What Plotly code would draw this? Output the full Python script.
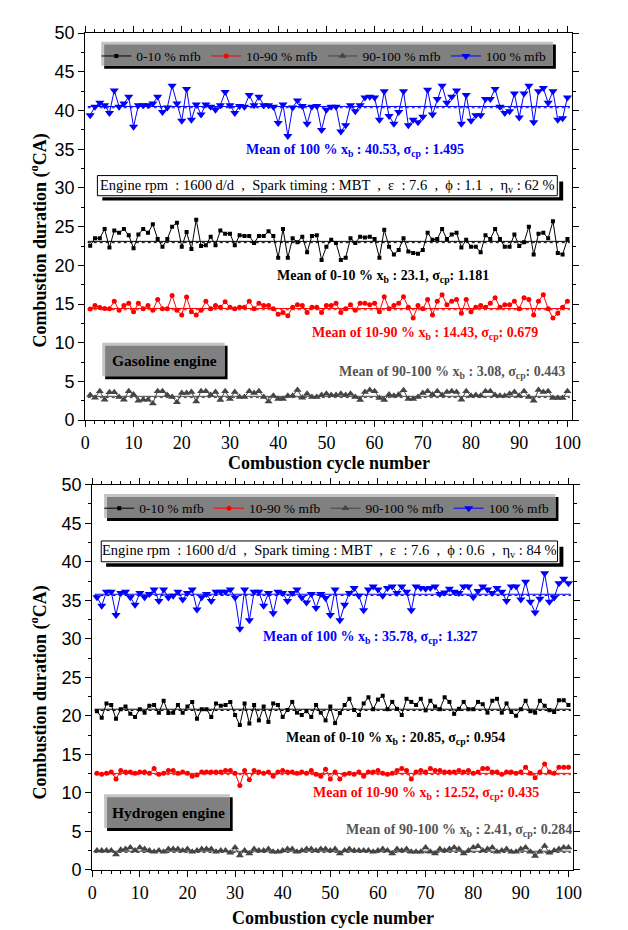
import numpy as np
import plotly.graph_objects as go

W, H = 628, 930

cycles = list(range(1, 101))

series_names = ["0-10 % mfb", "10-90 % mfb", "90-100 % mfb", "100 % mfb"]
mean_labels = ["0-10 %", "10-90 %", "90-100 %", "100 %"]

gas_0_10 = [22.55,23.5,23.5,24.7,22.3,24.5,24.2,24.7,23.9,22.2,
            24.0,24.7,24.2,25.3,23.4,22.4,23.4,25.0,25.5,22.4,
            24.3,22.1,25.9,22.5,22.6,23.7,22.6,24.5,24.1,24.1,
            22.6,23.9,23.8,23.8,22.9,23.8,23.8,24.4,23.8,21.0,
            24.7,21.0,23.5,23.0,23.7,21.7,23.8,23.9,20.7,22.4,
            23.3,22.9,20.7,21.0,23.5,22.9,23.7,23.6,23.7,23.4,
            21.0,24.6,22.4,21.4,22.0,23.5,21.8,21.6,21.5,22.0,
            24.2,23.3,23.4,24.7,23.4,24.0,24.2,22.3,23.3,22.4,
            22.4,21.7,23.9,23.4,24.7,23.4,22.4,22.4,24.0,22.5,
            23.0,25.0,21.4,24.1,24.2,23.5,25.7,21.6,21.4,23.4]
gas_10_90 = [14.35,14.8,14.55,14.43,14.4,15.35,14.2,14.8,15.1,14.0,
             15.1,14.4,14.8,14.2,15.6,14.4,14.4,16.1,14.2,13.6,
             15.9,14.0,13.6,14.2,15.35,14.4,14.8,14.6,15.3,14.6,
             14.4,14.6,14.6,15.35,14.4,15.1,14.8,14.8,14.4,13.7,
             13.9,13.5,14.6,14.9,14.8,13.9,14.6,14.6,13.9,14.8,
             14.8,15.1,13.9,14.4,14.9,14.2,15.1,15.1,14.9,15.1,
             14.0,15.95,14.4,14.8,15.1,15.95,14.6,13.2,14.8,14.4,
             15.6,13.6,15.35,16.2,14.9,15.35,15.6,13.8,15.6,14.0,
             14.6,14.8,14.6,15.1,15.8,14.6,14.9,14.9,15.35,14.4,
             15.8,15.6,13.6,15.35,16.2,14.4,13.2,13.8,14.6,15.35]
gas_90_100 = [3.25,2.9,3.75,2.65,3.6,3.6,3.0,2.65,3.75,3.3,
              2.5,2.65,2.65,2.15,3.75,3.75,3.25,3.0,2.3,3.5,
              3.5,3.65,2.4,3.75,3.75,3.25,3.65,2.6,3.75,2.75,
              3.65,3.0,3.0,3.75,3.5,3.75,3.0,2.4,3.15,2.75,
              2.75,3.15,3.15,3.9,2.9,3.4,3.0,3.0,3.25,3.4,
              3.25,3.25,3.4,3.25,3.4,3.0,2.6,3.65,3.9,3.75,
              2.85,2.6,3.3,3.15,3.3,3.85,2.75,2.75,3.0,3.5,
              3.75,3.3,3.75,3.25,3.65,3.75,3.65,2.65,3.75,3.15,
              3.25,3.15,3.75,3.75,3.25,3.15,3.15,3.4,3.65,3.15,
              3.75,3.0,2.5,3.9,3.65,3.75,2.85,2.85,2.85,3.75]
gas_100 = [39.4,40.5,41.0,40.7,39.7,42.6,40.5,40.9,41.8,37.9,
           40.7,40.7,40.7,40.9,41.8,39.8,40.4,43.2,40.9,38.7,
           42.8,38.8,40.8,39.5,40.8,40.5,40.1,40.7,42.4,40.7,
           39.7,40.6,40.5,42.0,40.7,41.8,40.7,40.7,40.5,38.4,
           40.8,36.7,40.4,41.3,40.6,38.3,40.5,40.6,37.5,40.1,
           40.5,40.5,37.3,38.1,40.7,39.9,40.7,41.7,41.8,41.7,
           38.8,42.5,39.3,38.3,39.8,42.5,38.1,38.8,38.5,39.2,
           42.7,39.5,41.5,43.2,41.0,41.8,42.6,38.3,42.0,38.7,
           39.4,39.4,41.5,41.5,42.8,40.5,39.7,39.9,42.2,39.1,
           42.2,43.2,38.5,42.5,42.9,41.0,42.5,38.8,39.0,41.7]

h2_0_10 = [20.6,19.75,21.6,21.4,19.6,20.85,21.2,20.25,19.85,20.85,
           20.4,21.3,21.4,20.4,21.95,20.35,20.4,21.4,20.4,21.2,
           21.8,19.6,20.85,20.85,19.85,21.6,21.3,21.4,21.8,20.1,
           18.8,21.6,19.0,21.4,19.4,21.2,19.2,21.6,21.4,19.85,
           20.75,21.8,20.4,20.1,20.6,19.85,21.4,20.4,19.4,21.2,
           19.05,20.35,21.4,22.2,20.75,20.1,21.6,22.4,20.85,22.1,
           22.6,20.85,21.8,20.9,20.1,22.2,21.8,21.4,22.2,20.7,
           21.95,21.2,20.85,22.4,21.8,20.25,20.9,21.8,20.85,20.85,
           21.8,21.5,20.4,21.95,22.2,20.4,21.6,20.5,20.0,20.85,
           21.95,20.6,20.4,21.95,21.3,20.7,20.5,22.0,22.0,21.4]
h2_10_90 = [12.55,12.4,12.55,12.7,11.8,12.9,12.7,12.7,12.55,12.7,
            12.7,12.55,13.15,12.4,12.55,12.9,12.9,12.55,12.7,12.55,
            12.15,12.3,12.7,12.7,12.7,12.7,12.7,12.9,12.9,12.55,
            10.95,12.9,11.7,12.9,12.7,12.55,12.7,12.15,12.7,12.9,
            12.7,12.7,12.55,12.7,12.55,12.9,12.4,12.15,13.05,11.8,
            12.7,11.8,12.4,12.55,12.4,12.7,12.15,12.7,12.7,12.9,
            12.55,12.4,12.55,12.9,13.15,12.9,11.8,12.7,12.9,12.7,
            13.15,12.9,12.9,12.7,12.7,12.7,12.9,12.7,12.9,12.55,
            12.7,13.15,13.15,12.7,12.7,12.4,12.7,12.7,12.55,12.7,
            13.3,12.55,11.95,12.7,13.75,12.7,12.55,13.3,13.3,13.3]
h2_90_100 = [2.5,2.5,2.5,2.5,2.0,2.6,2.7,2.9,2.5,2.9,
             2.7,2.5,2.35,2.5,2.35,2.7,2.7,2.7,2.5,2.7,
             2.35,2.5,2.7,2.7,2.7,2.35,2.5,2.5,2.2,2.9,
             1.85,2.5,2.1,2.7,2.5,2.5,2.7,2.35,2.35,2.5,
             2.7,2.7,2.35,2.5,2.7,2.7,2.5,2.7,2.7,2.5,
             2.7,2.1,2.5,2.7,2.5,2.5,2.5,2.5,2.35,2.5,
             2.7,2.5,2.1,2.7,2.5,2.7,2.35,2.35,2.35,2.9,
             2.35,2.1,2.7,2.5,2.7,2.9,2.7,2.1,2.5,2.9,
             3.05,2.5,2.7,2.9,2.35,2.5,2.7,2.35,2.35,2.7,
             2.9,2.35,1.8,2.35,3.1,2.2,2.5,2.7,2.9,2.9]
h2_100 = [35.4,34.3,36.1,36.1,33.1,35.95,36.1,35.4,34.4,35.95,
          35.4,35.8,36.4,34.9,36.4,35.35,35.6,36.1,35.1,35.95,
          36.4,33.8,35.4,35.8,34.9,36.1,36.1,36.1,36.4,35.35,
          31.3,36.4,32.4,36.1,36.1,34.3,35.95,33.3,36.1,35.95,
          34.9,35.95,36.4,35.35,34.7,35.8,34.0,35.8,35.3,33.1,
          36.4,32.4,34.4,35.95,36.6,35.6,33.7,36.4,36.8,36.4,
          35.6,36.6,36.8,35.95,36.8,36.1,33.7,36.8,36.6,36.5,
          36.6,36.8,35.8,36.0,36.5,36.1,35.95,36.8,36.8,35.4,
          36.2,36.8,36.4,35.95,36.6,36.1,34.9,36.8,36.8,35.1,
          37.4,34.8,33.4,35.2,38.5,34.8,35.35,37.2,37.8,37.2]

gas_means = [23.1, 14.43, 3.08, 40.53]
gas_sigmas = [1.181, 0.679, 0.443, 1.495]
h2_means = [20.85, 12.52, 2.41, 35.78]
h2_sigmas = [0.954, 0.435, 0.284, 1.327]

gas_condition = "Engine rpm  : 1600 d/d  ,  Spark timing : MBT  ,  ε  : 7.6  ,  ϕ : 1.1  ,  η<sub>v</sub> : 62 %"
h2_condition = "Engine rpm  : 1600 d/d  ,  Spark timing : MBT  ,  ε  : 7.6  ,  ϕ : 0.6  ,  η<sub>v</sub> : 84 %"
panel_names = ["Gasoline engine", "Hydrogen engine"]

x_title = "Combustion cycle number"
y_title = "Combustion duration (<sup>o</sup>CA)"

# ---------------- styling ----------------
SERIF = "Liberation Serif, Times New Roman, serif"
SANS = "Liberation Sans, Arial, sans-serif"
colors = ["#000000", "#ff0000", "#454545", "#0000ff"]
text_colors = ["#000000", "#ff0000", "#555555", "#0000ff"]
symbols = ["square", "circle", "triangle-up", "triangle-down"]
msizes = [4, 5, 7, 8]

def px(x):
    return x / W

def py(y):
    return 1 - y / H

panels = [
    dict(x0=74, x1=572, y0=15.5, y1=411, xa="x", ya="y", leg="legend",
         means=gas_means, sig=gas_sigmas, data=[gas_0_10, gas_10_90, gas_90_100, gas_100],
         cond=gas_condition, name=panel_names[0],
         mean_pos=[(39.3, 18.5), (46.6, 11.2), (52.3, 6.1), (33.0, 34.9)],
         legbox=(3.3, 97.6, 45.4, 48.9), condbox=(2.5, 97.9, 29.0, 31.6),
         namebox=(3.5, 29.5, 5.3, 10.0), xt_y=455, yt_y=227),
    dict(x0=81, x1=573, y0=477, y1=870.5, xa="x2", ya="y2", leg="legend2",
         means=h2_means, sig=h2_sigmas, data=[h2_0_10, h2_10_90, h2_90_100, h2_100],
         cond=h2_condition, name=panel_names[1],
         mean_pos=[(40.2, 17.0), (45.9, 9.9), (52.9, 5.1), (35.4, 30.2)],
         legbox=(2.5, 97.9, 45.3, 48.8), condbox=(1.9, 97.7, 40.0, 42.7),
         namebox=(2.5, 29.5, 5.05, 9.8), xt_y=920, yt_y=689),
]
XMAX = 101

fig = go.Figure()
shapes = []
annotations = []
legends = {}

def bevel(xa, ya, x0, x1, y0, y1, xs, ys, t):
    return [
        dict(type="rect", xref=xa, yref=ya, x0=x0 + t * xs, x1=x1, y0=y0, y1=y1 - t * ys,
             fillcolor="#000000", line=dict(width=0), layer="above"),
        dict(type="rect", xref=xa, yref=ya, x0=x0, x1=x1 - t * xs, y0=y0 + t * ys, y1=y1,
             fillcolor="#c4c4c4", line=dict(width=0), layer="above"),
        dict(type="rect", xref=xa, yref=ya, x0=x0 + t * xs, x1=x1 - t * xs,
             y0=y0 + t * ys, y1=y1 - t * ys, fillcolor="#808080", line=dict(width=0),
             layer="above"),
    ]

for pi, p in enumerate(panels):
    xa, ya = p["xa"], p["ya"]
    xs = XMAX / (p["x1"] - p["x0"])     # data units per px (x)
    ys = 50 / (p["y1"] - p["y0"])       # data units per px (y)
    for k in range(4):
        yv = p["data"][k]
        fig.add_trace(go.Scatter(
            x=cycles, y=yv, mode="lines+markers", name=series_names[k],
            line=dict(color=colors[k], width=1),
            marker=dict(symbol=symbols[k], size=msizes[k], color=colors[k]),
            xaxis=xa, yaxis=ya, legend=p["leg"]))
        # mean line (solid) with a dotted companion just below it
        fig.add_trace(go.Scatter(
            x=[0.5, 100.5], y=[p["means"][k]] * 2, mode="lines",
            line=dict(color=colors[k], width=1), showlegend=False,
            xaxis=xa, yaxis=ya, hoverinfo="skip"))
        fig.add_trace(go.Scatter(
            x=[0.5, 100.5], y=[p["means"][k] - 1.3 * ys] * 2, mode="lines",
            line=dict(color=colors[k], width=1, dash="dot"), showlegend=False,
            xaxis=xa, yaxis=ya, hoverinfo="skip"))
        sigsep = " : " if (k == 3 and pi == 0) else ": "
        txt = (f"<b>Mean of {mean_labels[k]} x<sub>b</sub> : {p['means'][k]}, "
               f"σ<sub>cp</sub>{sigsep}{p['sig'][k]}</b>")
        mx, my = p["mean_pos"][k]
        annotations.append(dict(x=mx, y=my, xref=xa, yref=ya, text=txt, showarrow=False,
                                xanchor="left", yanchor="middle",
                                font=dict(family=SERIF, size=14, color=text_colors[k])))

    # bevel legend box + plotly legend on top of it
    lx0, lx1, ly0, ly1 = p["legbox"]
    shapes += bevel(xa, ya, lx0, lx1, ly0, ly1, xs, ys, 3)
    left_px = p["x0"] + lx0 / xs
    ypx_c = p["y1"] - ((ly0 + ly1) / 2) / ys
    legends[p["leg"]] = dict(
        x=px(left_px - 5), y=py(ypx_c + 1), xanchor="left", yanchor="middle", orientation="h",
        bgcolor="rgba(0,0,0,0)", borderwidth=0, tracegroupgap=0,
        font=dict(family=SERIF, size=13.5, color="black"), itemwidth=30)

    # condition box with drop shadow
    cx0, cx1, cy0, cy1 = p["condbox"]
    shapes.append(dict(type="rect", xref=xa, yref=ya, x0=cx0 + 5 * xs, x1=cx1 + 6 * xs,
                       y0=cy0 - 5 * ys, y1=cy1 - 6 * ys, fillcolor="black",
                       line=dict(width=0), layer="above"))
    shapes.append(dict(type="rect", xref=xa, yref=ya, x0=cx0, x1=cx1 + 2 * xs,
                       y0=cy0 - 1.5 * ys, y1=cy1, fillcolor="white",
                       line=dict(width=0), layer="above"))
    shapes.append(dict(type="rect", xref=xa, yref=ya, x0=cx0, x1=cx1, y0=cy0, y1=cy1,
                       fillcolor="white", line=dict(width=1, color="black"), layer="above"))
    annotations.append(dict(x=(cx0 + cx1) / 2, y=(cy0 + cy1) / 2, xref=xa, yref=ya,
                            text=p["cond"], showarrow=False, xanchor="center", yanchor="middle",
                            font=dict(family=SERIF, size=14.5, color="black")))

    # engine name box
    nx0, nx1, ny0, ny1 = p["namebox"]
    shapes += bevel(xa, ya, nx0, nx1, ny0, ny1, xs, ys, 3)
    annotations.append(dict(x=(nx0 + nx1) / 2, y=(ny0 + ny1) / 2, xref=xa, yref=ya,
                            text="<b>" + p["name"] + "</b>", showarrow=False,
                            xanchor="center", yanchor="middle",
                            font=dict(family=SERIF, size=15.5, color="black")))

    # axis titles
    dom0, dom1 = px(p["x0"]), px(p["x1"])
    annotations.append(dict(x=(dom0 + dom1) / 2, y=py(p["xt_y"]), xref="paper", yref="paper",
                            text="<b>" + x_title + "</b>", showarrow=False,
                            xanchor="center", yanchor="middle",
                            font=dict(family=SERIF, size=18, color="black")))
    annotations.append(dict(x=px(27), y=py(p["yt_y"]), xref="paper", yref="paper",
                            text="<b>" + y_title + "</b>", showarrow=False, textangle=-90,
                            xanchor="center", yanchor="middle",
                            font=dict(family=SERIF, size=18, color="black")))

def xaxis_cfg(p):
    return dict(domain=[px(p["x0"]), px(p["x1"])], range=[0, XMAX], anchor=p["ya"],
                tickmode="linear", tick0=0, dtick=10, ticks="outside", ticklen=6,
                tickwidth=1, tickcolor="black", showline=True, linecolor="black",
                linewidth=1.3, mirror="allticks", showgrid=False, zeroline=False,
                tickfont=dict(family=SERIF, size=18, color="black"),
                minor=dict(dtick=2, tick0=0, ticks="outside", ticklen=3, tickwidth=1,
                           tickcolor="black", showgrid=False))

def yaxis_cfg(p):
    return dict(domain=[py(p["y1"]), py(p["y0"])], range=[0, 50], anchor=p["xa"],
                tickmode="linear", tick0=0, dtick=5, ticks="outside", ticklen=6,
                tickwidth=1, tickcolor="black", showline=True, linecolor="black",
                linewidth=1.3, mirror="allticks", showgrid=False, zeroline=False,
                tickfont=dict(family=SANS, size=18, color="black"),
                minor=dict(dtick=2.5, tick0=0, ticks="outside", ticklen=3, tickwidth=1,
                           tickcolor="black", showgrid=False))

fig.update_layout(
    width=W, height=H, margin=dict(l=0, r=0, t=0, b=0),
    paper_bgcolor="white", plot_bgcolor="white",
    xaxis=xaxis_cfg(panels[0]), yaxis=yaxis_cfg(panels[0]),
    xaxis2=xaxis_cfg(panels[1]), yaxis2=yaxis_cfg(panels[1]),
    shapes=shapes, annotations=annotations,
    legend=legends["legend"], legend2=legends["legend2"],
    showlegend=True,
)

fig.write_html("out.html")
